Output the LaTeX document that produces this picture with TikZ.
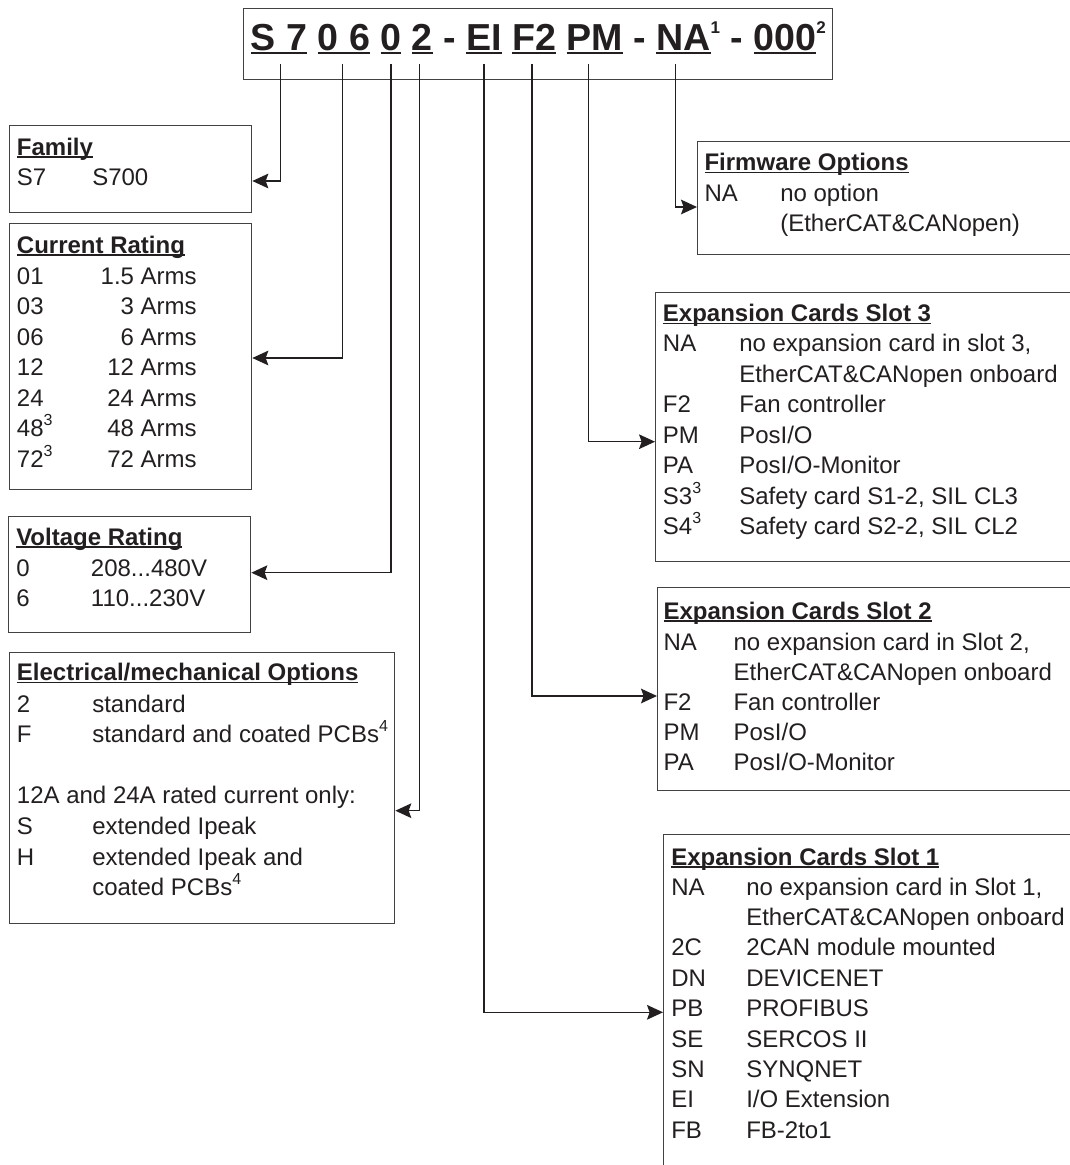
\documentclass[tikz,border=0pt]{standalone}
\usepackage{fontspec}
\setmainfont{Liberation Sans}
\usepackage{xcolor}
\usepackage{tikz}
\usetikzlibrary{positioning}
\usetikzlibrary{arrows.meta}
\definecolor{ink}{HTML}{231F20}
\newcommand{\undl}[1]{\setbox0\hbox{#1}\rlap{\rule[-0.11em]{\wd0}{0.065em}}\box0\relax}
\newcommand{\tsup}[1]{\raisebox{12.5pt}{\fontsize{12.75}{13}\selectfont #1}}
\newcommand{\bsup}[1]{\raisebox{8.2pt}{\fontsize{12}{12}\selectfont #1}}
\tikzstyle{box}=[rectangle,draw=ink!85,line width=1pt,anchor=north west,inner sep=0pt]
\tikzstyle{head}=[anchor=base west,inner sep=0pt,font=\fontsize{18}{22}\selectfont\bfseries]
\tikzstyle{entry}=[anchor=base west,inner sep=0pt,font=\fontsize{18}{22}\selectfont]
\tikzstyle{feed}=[draw,line width=1pt,-{Stealth[length=12pt,width=11pt,inset=2pt]}]
\tikzset{tap/.style={coordinate}}

\begin{document}
\begin{tikzpicture}[x=0.75pt,y=-0.75pt,color=ink]

 \useasboundingbox (0,0) rectangle (1070,1165);
 \clip (0,0) rectangle (1070,1165);
 \def\px{0.75pt};

 %type code
 \node[box,minimum width=589*\px,minimum height=71*\px] (title) at (243,7.5) {};
 \node[anchor=base west,inner sep=0pt,font=\fontsize{28.2}{34}\selectfont\bfseries] (code) at (250.7,50)
   {\undl{S 7} \undl{0 6} \undl{0} \undl{2} - \undl{EI} \undl{F2} \undl{PM} - \undl{NA}\tsup{1} - \undl{000}\tsup{2}};

 \foreach \name/\x in {tS/280.7, tC/342.7, tV/391, tE/419.5, tEI/484, tF/532, tPM/588.7, tNA/675.7}
          \node[tap] (\name) at (\x,64) {};

 %Family
 \node[box,minimum width=242*\px,minimum height=87*\px] (family) at (9,125) {};
 \node[head] (famh) at (16.7,155.3) {\undl{Family}};
 \node[entry] (famc) at (16.7,185.5) {S7};
 \node[entry] (famt) at (92,185.5) {S700};

 %Current Rating
 \node[box,minimum width=242*\px,minimum height=266*\px] (current) at (9,223) {};
 \node[head] (curh) at (16.7,253.3) {\undl{Current Rating}};
 \def\dy{284};
   \foreach \i/\code/\val in {0/01/1.5, 1/03/3, 2/06/6, 3/12/12, 4/24/24, 5/48\bsup{3}/48, 6/72\bsup{3}/72}
   {
          \node[entry] (curc\i) at (16.7,\dy+\i*30.5) {\code};
          \node[entry,anchor=base east] (curt\i) at (197,\dy+\i*30.5) {\val\ Arms};
   }

 %Voltage Rating
 \node[box,minimum width=242*\px,minimum height=116*\px] (voltage) at (8,516) {};
 \node[head] (volh) at (16,545) {\undl{Voltage Rating}};
 \node[entry] (volc0) at (16,576) {0};
 \node[entry] (volt0) at (90.7,576) {208...480V};
 \node[entry] (volc1) at (16,606.5) {6};
 \node[entry] (volt1) at (90.7,606.5) {110...230V};

 %Electrical/mechanical Options
 \node[box,minimum width=385*\px,minimum height=271*\px] (elmech) at (9,652) {};
 \node[head] (elh) at (16.7,680.5) {\undl{Electrical/mechanical Options}};
 \def\dy{712};
   \foreach \i/\code/\txt in {0/2/standard, 1/F/standard and coated PCBs\bsup{4}, 4/S/extended Ipeak, 5/H/extended Ipeak and}
   {
          \node[entry] (elc\i) at (16.7,\dy+\i*30.6) {\code};
          \node[entry] (elt\i) at (92,\dy+\i*30.6) {\txt};
   }
 \node[entry] (elnote) at (16.7,\dy+3*30.6) {12A and 24A rated current only:};
 \node[entry] (elt6) at (92,\dy+6*30.6) {coated PCBs\bsup{4}};

 %Firmware Options
 \node[box,minimum width=378*\px,minimum height=113*\px] (firmware) at (697,141) {};
 \node[head] (fwh) at (704.3,170.7) {\undl{Firmware Options}};
 \node[entry] (fwc0) at (704.3,201.3) {NA};
 \node[entry] (fwt0) at (780,201.3) {no option};
 \node[entry] (fwt1) at (780,231.8) {(EtherCAT\&CANopen)};

 %Slot 3
 \node[box,minimum width=420*\px,minimum height=269*\px] (slotC) at (655,292) {};
 \node[head] (s3h) at (662.7,321.7) {\undl{Expansion Cards Slot 3}};
 \def\dy{351.7};
   \foreach \i/\code in {0/NA, 2/F2, 3/PM, 4/PA, 5/S3\bsup{3}, 6/S4\bsup{3}}
          \node[entry] (s3c\i) at (662.7,\dy+\i*30.5) {\code};
   \foreach \i/\txt in {0/{no expansion card in slot 3,}, 1/EtherCAT\&CANopen onboard, 2/Fan controller, 3/{PosI/O}, 4/{PosI/O-Monitor}, 5/{Safety card S1-2, SIL CL3}, 6/{Safety card S2-2, SIL CL2}}
          \node[entry] (s3t\i) at (739,\dy+\i*30.5) {\txt};

 %Slot 2
 \node[box,minimum width=418*\px,minimum height=203*\px] (slotB) at (657,587) {};
 \node[head] (s2h) at (663.3,619.3) {\undl{Expansion Cards Slot 2}};
 \def\dy{650};
   \foreach \i/\code in {0/NA, 2/F2, 3/PM, 4/PA}
          \node[entry] (s2c\i) at (663.3,\dy+\i*30) {\code};
   \foreach \i/\txt in {0/{no expansion card in Slot 2,}, 1/EtherCAT\&CANopen onboard, 2/Fan controller, 3/{PosI/O}, 4/{PosI/O-Monitor}}
          \node[entry] (s2t\i) at (733.3,\dy+\i*30) {\txt};

 %Slot 1
 \node[box,minimum width=412*\px,minimum height=345*\px] (slotA) at (663,834) {};
 \node[head] (s1h) at (671,865) {\undl{Expansion Cards Slot 1}};
 \def\dy{895};
   \foreach \i/\code in {0/NA, 2/2C, 3/DN, 4/PB, 5/SE, 6/SN, 7/EI, 8/FB}
          \node[entry] (s1c\i) at (671,\dy+\i*30.4) {\code};
   \foreach \i/\txt in {0/{no expansion card in Slot 1,}, 1/EtherCAT\&CANopen onboard, 2/2CAN module mounted, 3/DEVICENET, 4/PROFIBUS, 5/SERCOS II, 6/SYNQNET, 7/{I/O Extension}, 8/FB-2to1}
          \node[entry] (s1t\i) at (746,\dy+\i*30.4) {\txt};

 %feeds
 \draw[feed] (tS) |- (family.east |- 0,181);
 \draw[feed] (tC) |- (current.east |- 0,358);
 \draw[feed] (tV) |- (voltage.east |- 0,572.7);
 \draw[feed] (tE) |- (elmech.east |- 0,810.7);
 \draw[feed] (tEI) |- (slotA.west |- 0,1012.3);
 \draw[feed] (tF) |- (slotB.west |- 0,696);
 \draw[feed] (tPM) |- (slotC.west |- 0,441.7);
 \draw[feed] (tNA) |- (firmware.west |- 0,207);

\end{tikzpicture}
\end{document}
